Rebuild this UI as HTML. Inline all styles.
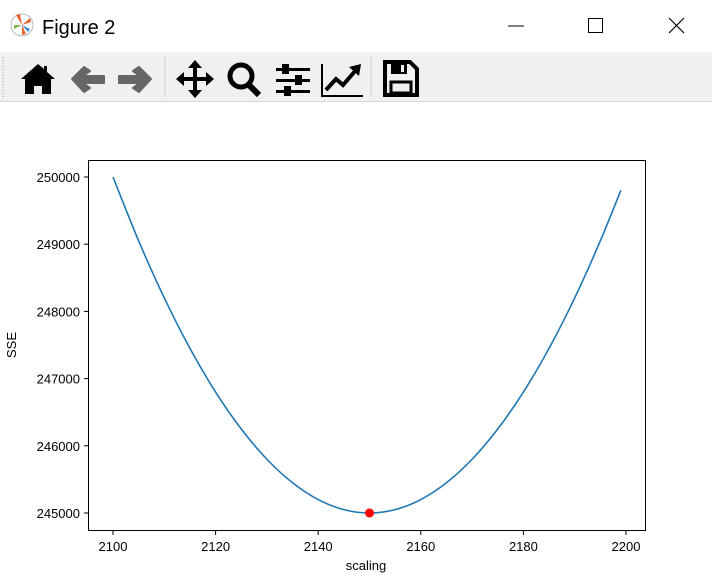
<!DOCTYPE html>
<html><head><meta charset="utf-8"><style>
body{margin:0;width:712px;height:579px;background:#fff;font-family:"Liberation Sans",sans-serif;overflow:hidden;position:relative}
#title{position:absolute;left:0;top:0;width:712px;height:52px}
#toolbar{position:absolute;left:0;top:52px;width:712px;height:49px;background:#f0f0f0;border-bottom:1px solid #d8d8d8}
</style></head><body>
<div id="title">
<svg width="712" height="52">
 <g>
  <circle cx="22" cy="25" r="11" fill="#fff" stroke="#bbb"/>
  <path d="M22 25 L16 15 L20 14Z" fill="#e8632b"/><path d="M22 25 L30 18 L31 22Z" fill="#e8632b"/>
  <path d="M22 25 L14 29 L14 25Z" fill="#7ab648"/><path d="M22 25 L26 34 L22 35Z" fill="#e8632b"/>
  <path d="M22 25 L30 29 L28 32Z" fill="#3b8ed4"/>
 </g>
 <text x="42" y="34" font-size="20" fill="#000">Figure 2</text>
 <line x1="508" y1="26" x2="524" y2="26" stroke="#000"/>
 <rect x="588.5" y="18.5" width="14" height="14" fill="none" stroke="#000"/>
 <path d="M669 18 L684 33 M684 18 L669 33" stroke="#000" stroke-width="1.2"/>
</svg></div>
<div id="toolbar">
<svg width="712" height="49">
 <line x1="3" y1="5" x2="3" y2="45" stroke="#999" stroke-dasharray="1,2"/>
 <g><path d="M38 12 L21 27 L25 27 L25 42 L34 42 L34 34 L42 34 L42 42 L51 42 L51 27 L55 27 L47 20 L47 14 L44 14 L44 17Z" fill="#000"/></g>
 <g><path d="M72 27 L84 15 L90 19 L83 24 L104 24 L104 31 L83 31 L90 36 L84 40Z" fill="#666" stroke="#666" stroke-linejoin="round" stroke-width="2"/></g>
 <g><path d="M151 27 L139 15 L133 19 L140 24 L119 24 L119 31 L140 31 L133 36 L139 40Z" fill="#666" stroke="#666" stroke-linejoin="round" stroke-width="2"/></g>
 <line x1="165" y1="5" x2="165" y2="45" stroke="#ccc"/>
 <g><path d="M195 8 L188 16 L202 16Z M195 46 L188 38 L202 38Z M176 27 L184 20 L184 34Z M214 27 L206 20 L206 34Z" fill="#000"/><rect x="193" y="14" width="4" height="26" fill="#000"/><rect x="182" y="25" width="26" height="4" fill="#000"/></g>
 <g><circle cx="241" cy="24" r="11" fill="none" stroke="#000" stroke-width="5"/><line x1="248" y1="32" x2="259" y2="43" stroke="#000" stroke-width="6"/></g>
 <g fill="#000"><rect x="276" y="16" width="34" height="3"/><rect x="276" y="27" width="34" height="3"/><rect x="276" y="38" width="34" height="3"/><rect x="282" y="12" width="7" height="10"/><rect x="295" y="23" width="7" height="10"/><rect x="284" y="34" width="7" height="10"/></g>
 <g><path d="M322 12 L322 44 L363 44" fill="none" stroke="#000" stroke-width="2"/><path d="M326 38 L336 27 L343 33 L356 18" fill="none" stroke="#000" stroke-width="4"/><path d="M349 15 L361 12 L359 24Z" fill="#000"/></g>
 <line x1="371" y1="5" x2="371" y2="45" stroke="#ccc"/>
 <g><path d="M385 10 L410 10 L417 17 L417 43 L385 43Z" fill="none" stroke="#000" stroke-width="4"/><rect x="391" y="12" width="16" height="10" fill="#000"/><rect x="401" y="13" width="3" height="7" fill="#f0f0f0"/><rect x="391" y="30" width="20" height="11" fill="none" stroke="#000" stroke-width="3"/></g>
</svg></div>
<svg id="chart" width="712" height="579" style="position:absolute;left:0;top:0"></svg>
<script>
const xValues=[2100,2105,2110,2115,2120,2125,2130,2135,2140,2145,2150,2155,2160,2165,2170,2175,2180,2185,2190,2195,2199];
const sseValues=[250000,249050,248200,247450,246800,246250,245800,245450,245200,245050,245000,245050,245200,245450,245800,246250,246800,247450,248200,249050,249802];
const minPoint=[2150,245000];
const xTicks=[2100,2120,2140,2160,2180,2200];
const yTicks=[245000,246000,247000,248000,249000,250000];
const NS='http://www.w3.org/2000/svg';
const svg=document.getElementById('chart');
const sx=v=>113+(v-2100)*5.13;
const sy=v=>513-(v-245000)*0.0672;
function mk(tag,attrs,parent){const e=document.createElementNS(NS,tag);for(const k in attrs)e.setAttribute(k,attrs[k]);(parent||svg).appendChild(e);return e;}
const frame=mk('rect',{x:88.5,y:160.5,width:557,height:370,fill:'none',stroke:'#000','stroke-width':1});


xTicks.forEach(t=>{const x=sx(t);
 const l=mk('line',{x1:x,x2:x,y1:531,y2:535,stroke:'#000'});
 
 
 const tx=mk('text',{x:x,y:551,'font-size':13,'text-anchor':'middle',fill:'#000'});tx.textContent=t;
 
 });
yTicks.forEach(t=>{const y=sy(t);
 const l=mk('line',{x1:84,x2:88,y1:y,y2:y,stroke:'#000'});
 
 
 const tx=mk('text',{x:80,y:y+5,'font-size':13,'text-anchor':'end',fill:'#000'});tx.textContent=t;
 
 });
const xl=mk('text',{x:366,y:570,'font-size':13,'text-anchor':'middle'});xl.textContent='scaling';


const yl=mk('text',{x:0,y:0,'font-size':13,'text-anchor':'middle',transform:'translate(16,345) rotate(-90)'});yl.textContent='SSE';


// smooth curve via Catmull-Rom
const pts=xValues.map((v,i)=>[sx(v),sy(sseValues[i])]);
let d='M'+pts[0][0]+' '+pts[0][1];
for(let i=0;i<pts.length-1;i++){const p0=pts[Math.max(i-1,0)],p1=pts[i],p2=pts[i+1],p3=pts[Math.min(i+2,pts.length-1)];
 d+=' C'+(p1[0]+(p2[0]-p0[0])/6)+' '+(p1[1]+(p2[1]-p0[1])/6)+' '+(p2[0]-(p3[0]-p1[0])/6)+' '+(p2[1]-(p3[1]-p1[1])/6)+' '+p2[0]+' '+p2[1];}
const line=mk('path',{d:d,fill:'none',stroke:'#1f77b4','stroke-width':1.6});


const dot=mk('circle',{cx:sx(minPoint[0]),cy:sy(minPoint[1]),r:4.5,fill:'#ff0000'});


</script>
</body></html>
